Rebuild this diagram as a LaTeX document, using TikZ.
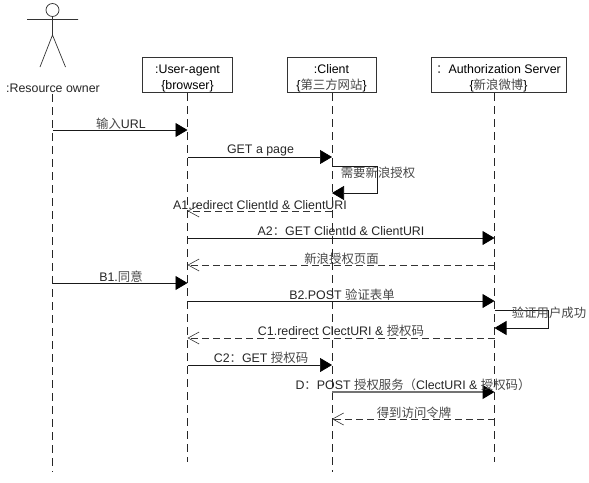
\documentclass[tikz,border=0pt]{standalone}
\usepackage{fontspec}
\setmainfont{Liberation Sans}
\newfontfamily\cjk{Noto Sans CJK SC}
\usetikzlibrary{arrows.meta,positioning}
\newcommand{\zh}[1]{{\cjk\color{black!72}#1}}
\begin{document}
\begin{tikzpicture}[x=1pt,y=-1pt,
				font=\fontsize{12.4}{16}\selectfont,
				objbox/.style={draw=black!80,line width=.8pt,fill=white,align=center,
					inner sep=0pt,text height=32pt,text depth=3pt},
				life/.style={black!85,line width=.7pt,dash pattern=on 8pt off 5pt},
				msg/.style={-{Triangle[length=12pt,width=14pt,color=black]},black!90,line width=.7pt},
				back/.style={-{Straight Barb[length=11pt,width=12pt,line width=.6pt]},black!80,
					line width=.7pt,dash pattern=on 7pt off 4pt},
				lab/.style={inner sep=0pt,text=black!85}]
				\useasboundingbox (0,0) rectangle (589,482);
				% actor
				\node[circle,draw=black!80,line width=.7pt,minimum size=13pt,inner sep=0pt] (head) at (52.5,10) {};
				\coordinate (armL) at (27,19.5);
				\coordinate (armR) at (78,19.5);
				\coordinate (hip) at (52.5,35);
				\coordinate (legL) at (40,67);
				\coordinate (legR) at (65.5,67);
				\draw[black!80,line width=.7pt] (head) -- (hip) (armL) -- (armR) (legL) -- (hip) -- (legR);
				\node[lab] (owner) at (53,88.5) {:Resource owner};

				\node[objbox,minimum width=90pt] (agent) at (187.5,75) {:User-agent\\\{browser\}};
				\node[objbox,minimum width=89pt] (client) at (331.5,75) {:Client\\\{\zh{第三方网站}\}};
				\node[objbox,minimum width=135pt] (server) at (498.5,75) {\zh{：}Authorization Server\\\{\zh{新浪微博}\}};

				% lifelines
				\coordinate (ownerTop) at (52.5,94);
				\coordinate (ownerEnd) at (52.5,472);
				\coordinate (agentTop) at (187.5,93);
				\coordinate (agentEnd) at (187.5,462);
				\coordinate (clientTop) at (332,93);
				\coordinate (clientEnd) at (332,472);
				\coordinate (serverTop) at (494.5,93);
				\coordinate (serverEnd) at (494.5,462);
				\draw[life] (ownerTop) -- (ownerEnd);
				\draw[life] (agentTop) -- (agentEnd);
				\draw[life] (clientTop) -- (clientEnd);
				\draw[life] (serverTop) -- (serverEnd);

				% end points of the messages
				\coordinate (o1) at (52.5,130);
				\coordinate (a1) at (187.5,130);
				\coordinate (a2) at (187.5,157);
				\coordinate (c2) at (332,157);
				\coordinate (c3) at (332,166);
				\coordinate (c3r) at (377,166);
				\coordinate (c4r) at (377,193);
				\coordinate (c4) at (332,193);
				\coordinate (c5) at (332,211);
				\coordinate (a5) at (187.5,211);
				\coordinate (a6) at (187.5,238);
				\coordinate (s6) at (494.5,238);
				\coordinate (s7) at (494.5,265);
				\coordinate (a7) at (187.5,265);
				\coordinate (o8) at (52.5,283);
				\coordinate (a8) at (187.5,283);
				\coordinate (a9) at (187.5,301);
				\coordinate (s9) at (494.5,301);
				\coordinate (s10) at (494.5,310);
				\coordinate (s10r) at (548,310);
				\coordinate (s11r) at (548,328);
				\coordinate (s11) at (494.5,328);
				\coordinate (s12) at (494.5,338);
				\coordinate (a12) at (187.5,338);
				\coordinate (a13) at (187.5,365);
				\coordinate (c13) at (332,365);
				\coordinate (c14) at (332,392);
				\coordinate (s14) at (494.5,392);
				\coordinate (s15) at (494.5,419);
				\coordinate (c15) at (332,419);

				\draw[msg] (o1) -- (a1);
				\draw[msg] (a2) -- (c2);
				\draw[msg] (c3) -- (c3r) -- (c4r) -- (c4);
				\draw[back] (c5) -- (a5);
				\draw[msg] (a6) -- (s6);
				\draw[back] (s7) -- (a7);
				\draw[msg] (o8) -- (a8);
				\draw[msg] (a9) -- (s9);
				\draw[msg] (s10) -- (s10r) -- (s11r) -- (s11);
				\draw[back] (s12) -- (a12);
				\draw[msg] (a13) -- (c13);
				\draw[msg,draw=black!55,line width=1.2pt] (c14) -- (s14);
				\draw[back] (s15) -- (c15);

				\node[lab] (t1) at (121,123.5) {\zh{输入}URL};
				\node[lab] (t2) at (260.5,150.5) {GET a page};
				\node[lab] (t3) at (378,173) {\zh{需要新浪授权}};
				\node[lab] (t4) at (260,205.5) {A1.redirect ClientId \& ClientURI};
				\node[lab] (t5) at (341,231.5) {A2\zh{：}GET ClientId \& ClientURI};
				\node[lab] (t6) at (341.5,259) {\zh{新浪授权页面}};
				\node[lab] (t7) at (121,277) {B1.\zh{同意}};
				\node[lab] (t8) at (342,295) {B2.POST \zh{验证表单}};
				\node[lab] (t9) at (549,313) {\zh{验证用户成功}};
				\node[lab] (t10) at (341,331) {C1.redirect ClectURI \& \zh{授权码}};
				\node[lab] (t11) at (261,358) {C2\zh{：}GET \zh{授权码}};
				\node[lab] (t12) at (413,385) {D\zh{：}POST \zh{授权服务（}ClectURI \& \zh{授权码）}};
				\node[lab] (t13) at (414,413) {\zh{得到访问令牌}};
			\end{tikzpicture}
\end{document}
